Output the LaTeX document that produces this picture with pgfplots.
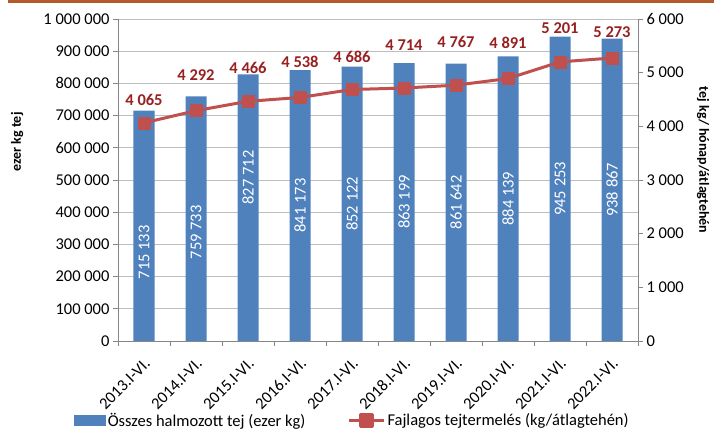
\documentclass[border=0pt]{standalone}
\usepackage{fontspec}
\setmainfont{Carlito}
\usepackage{pgfplots}
\usepackage{pgfplotstable}
\pgfplotsset{compat=1.18}
\definecolor{barblue}{RGB}{79,129,189}
\definecolor{linered}{RGB}{192,80,77}
\definecolor{labelred}{RGB}{152,32,32}
\definecolor{topbrown}{RGB}{178,90,42}
\definecolor{gridgray}{RGB}{190,190,190}
\definecolor{axisgray}{RGB}{134,134,134}

\pgfplotstableread{
x bar bary line liney
0 715133 275500 4065 748400
1 759733 337500 4292 826100
2 827712 508000 4466 847800
3 841173 420600 4538 866500
4 852122 426100 4686 882000
5 863199 431600 4714 919300
6 861642 430800 4767 928600
7 884139 442100 4891 925500
8 945253 472600 5201 972000
9 938867 469400 5273 959600
}\data

\newcommand\fs{\fontsize{16.5}{19.8}\selectfont}
\newcommand\fsl{\fontsize{14}{16.8}\selectfont}

\begin{document}
\begin{tikzpicture}
\useasboundingbox (-118pt,-89pt) rectangle (596pt,341pt);
\fill[topbrown] (-110pt,338.3pt) rectangle (596pt,341pt);
\begin{axis}[
  scale only axis, width=520pt, height=322pt,
  at={(0pt,0pt)}, anchor=south west,
  xmin=-0.5, xmax=9.5, ymin=0, ymax=1000000,
  axis y line*=left, axis x line*=bottom,
  x axis line style={-, draw=axisgray, line width=0.8pt},
  y axis line style={-, draw=axisgray, line width=0.8pt},
  ytick={0,100000,...,1000000},
  ymajorgrids, grid style={draw=gridgray, line width=0.9pt},
  xtick={0,...,9},
  xticklabels={2013.I-VI.,2014.I-VI.,2015.I-VI.,2016.I-VI.,2017.I-VI.,2018.I-VI.,2019.I-VI.,2020.I-VI.,2021.I-VI.,2022.I-VI.},
  minor xtick={-0.5,0.5,1.5,2.5,3.5,4.5,5.5,6.5,7.5,8.5,9.5},
  tick align=outside, major tick length=5pt, minor tick length=5pt,
  tick style={draw=axisgray, line width=0.8pt},
  major x tick style={draw=none},
  scaled y ticks=false,
  yticklabel style={/pgf/number format/.cd, fixed, precision=0, 1000 sep={\ }, assume math mode=true},
  tick label style={font=\fs, text=black},
  xticklabel style={rotate=45, anchor=east, inner sep=0pt, xshift=-8pt, yshift=-13pt},
  ylabel={ezer kg tej},
  ylabel style={font=\fsl\bfseries, at={(axis description cs:-0.194,0.618)}, anchor=center},
  clip=false,
]
\addplot[ybar, bar width=21pt, bar shift=0pt, fill=barblue, draw=none] table[x=x,y=bar]{\data};
\addplot[draw=none, mark=none, point meta=\thisrow{bar},
  nodes near coords={\pgfmathprintnumber[fixed,precision=0,1000 sep={\ },assume math mode=true]{\pgfplotspointmeta}},
  every node near coord/.style={rotate=90, anchor=center, text=white, font=\fs, inner sep=0pt}]
  table[x=x,y=bary]{\data};
\addplot[draw=none, mark=none, point meta=\thisrow{line},
  nodes near coords={\pgfmathprintnumber[fixed,precision=0,1000 sep={\ },assume math mode=true]{\pgfplotspointmeta}},
  every node near coord/.style={anchor=center, text=labelred, font=\fs\bfseries, inner sep=0pt}]
  table[x=x,y=liney]{\data};
\end{axis}
\begin{axis}[
  scale only axis, width=520pt, height=322pt,
  at={(0pt,0pt)}, anchor=south west,
  xmin=-0.5, xmax=9.5, ymin=0, ymax=6000,
  axis y line*=right, hide x axis,
  y axis line style={-, draw=axisgray, line width=0.8pt},
  ytick={0,1000,...,6000},
  tick align=outside, major tick length=5pt,
  tick style={draw=axisgray, line width=0.8pt},
  scaled y ticks=false,
  yticklabel style={/pgf/number format/.cd, fixed, precision=0, 1000 sep={\ }, assume math mode=true},
  tick label style={font=\fs, text=black},
  ylabel={tej kg/ hónap/átlagtehén},
  ylabel style={font=\fsl\bfseries, at={(axis description cs:1.125,0.562)}, anchor=center, rotate=180},
  clip=false,
  legend columns=2,
  legend cell align=left,
  legend style={draw=none, fill=none, font=\fs, at={(axis description cs:0.451,-0.246)}, anchor=center,
    /tikz/every even column/.append style={column sep=40pt}},
]
\addlegendimage{legend image code/.code={\fill[barblue] (0pt,-5pt) rectangle (31pt,5pt);}}
\addlegendentry{Összes halmozott tej (ezer kg)}
\addplot[color=linered, line width=3pt, line join=round, mark=square*, mark size=6pt,
  mark options={fill=linered, draw=linered, line width=0.5pt},
  legend image code/.code={\draw[linered, line width=3pt] (0pt,0pt) -- (35pt,0pt); \fill[linered] (11pt,-6pt) rectangle (23pt,6pt);}]
  table[x=x,y=line]{\data};
\addlegendentry{Fajlagos tejtermelés (kg/átlagtehén)}
\end{axis}
\end{tikzpicture}
\end{document}
